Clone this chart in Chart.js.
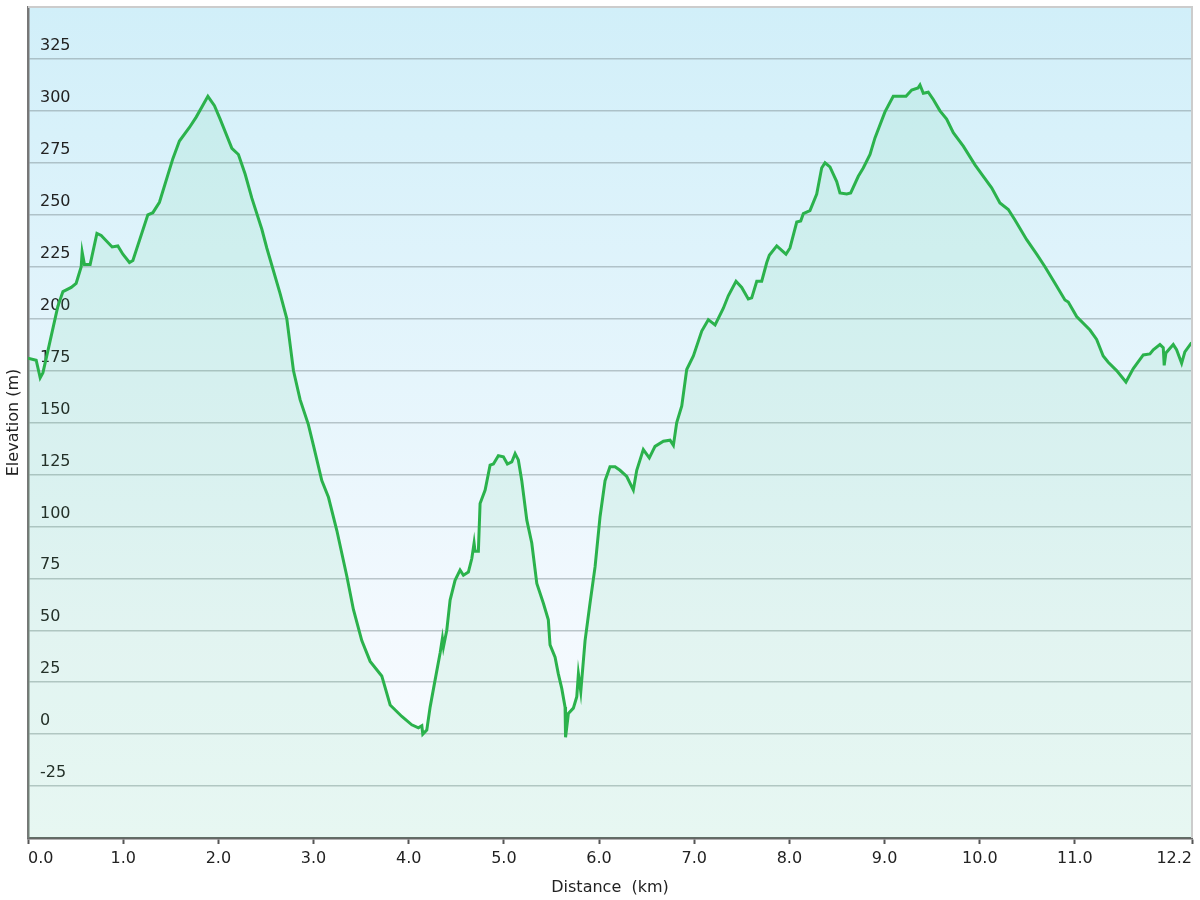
<!DOCTYPE html>
<html>
<head>
<meta charset="utf-8">
<title>Elevation profile</title>
<script src="https://cdn.jsdelivr.net/npm/chart.js@4/dist/chart.umd.min.js"></script>
<style>
    body { margin: 0; background: #ffffff; }
    #wrap { width: 1200px; height: 900px; }
</style>
</head>
<body>
<div id="wrap"><canvas id="profileChart" width="1200" height="900"></canvas></div>
<script>
// Profile data
const distanceKm = [
    0.0, 0.086, 0.128, 0.157, 0.226, 0.314, 0.367, 0.454, 0.506, 0.559, 0.569, 0.593, 0.653,
    0.724, 0.769, 0.884, 0.944, 0.997, 1.066, 1.102, 1.259, 1.312, 1.381, 1.522, 1.591,
    1.696, 1.767, 1.890, 1.959, 2.019, 2.142, 2.211, 2.282, 2.352, 2.457, 2.509, 2.649,
    2.719, 2.789, 2.859, 2.946, 2.999, 3.087, 3.157, 3.245, 3.350, 3.419, 3.507, 3.595,
    3.717, 3.805, 3.928, 4.032, 4.102, 4.138, 4.148, 4.190, 4.225, 4.277, 4.330, 4.354,
    4.365, 4.400, 4.435, 4.487, 4.540, 4.575, 4.627, 4.663, 4.687, 4.697, 4.732, 4.750,
    4.803, 4.855, 4.890, 4.942, 4.995, 5.037, 5.083, 5.118, 5.152, 5.188, 5.241, 5.293,
    5.346, 5.415, 5.467, 5.485, 5.538, 5.572, 5.608, 5.643, 5.648, 5.678, 5.730, 5.766,
    5.783, 5.808, 5.853, 5.905, 5.958, 6.010, 6.063, 6.115, 6.168, 6.220, 6.291, 6.360,
    6.396, 6.465, 6.528, 6.588, 6.676, 6.746, 6.781, 6.816, 6.869, 6.921, 6.991, 7.079,
    7.148, 7.219, 7.306, 7.358, 7.439, 7.499, 7.568, 7.604, 7.657, 7.709, 7.762, 7.789,
    7.867, 7.964, 8.006, 8.077, 8.119, 8.146, 8.216, 8.287, 8.339, 8.374, 8.426, 8.497,
    8.531, 8.602, 8.644, 8.724, 8.776, 8.847, 8.899, 9.004, 9.091, 9.225, 9.285, 9.351,
    9.372, 9.407, 9.459, 9.512, 9.582, 9.652, 9.722, 9.827, 9.950, 10.020, 10.125, 10.212,
    10.300, 10.370, 10.493, 10.598, 10.685, 10.790, 10.895, 10.930, 11.018, 11.158, 11.228,
    11.297, 11.350, 11.438, 11.536, 11.613, 11.718, 11.788, 11.823, 11.893, 11.928, 11.938,
    11.956, 12.033, 12.068, 12.121, 12.155, 12.226
];

const elevationM = [
    181, 180, 171.5, 174, 188, 206, 213, 215, 217, 225, 232, 226, 226,
    241, 240, 234.5, 235, 231, 227, 228, 250, 251, 256, 277, 285.5,
    292, 297, 307, 302.5, 296, 282, 279, 269.5, 258, 243, 234, 212,
    200, 175, 161, 149, 139, 122, 114, 98, 76, 60, 45, 35,
    28, 14, 8.5, 4.5, 3, 4, 0, 2, 13, 26, 39, 46,
    42, 50, 64.5, 74, 79, 76.5, 78, 84.5, 92, 88, 88, 111,
    117.5, 129.5, 130, 134, 133.5, 130, 131, 135, 132, 122, 103, 92,
    72.5, 63, 55, 43, 37, 29, 22, 13, -1.5, 10, 12.5, 18,
    29, 20.5, 45, 63, 80.5, 104.5, 122, 128.7, 128.7, 127, 124, 117.5,
    127, 137, 133, 138.5, 141, 141.5, 139, 150, 158, 175.5, 182, 194,
    199.5, 197, 205, 211, 218, 215, 209.5, 210, 218, 218, 227, 230.5,
    235, 231, 234, 246.5, 247, 250.5, 252, 260, 272.5, 275, 273, 266,
    260.5, 260, 260.5, 268.5, 272.5, 279, 287, 299.5, 307, 307, 310, 311,
    312.5, 308.5, 309, 305.5, 300, 296, 289.5, 283, 274, 269.5, 263, 255.7,
    252.5, 247.5, 238, 231, 225, 217, 209, 208, 201, 194.5, 190,
    182, 179, 175, 169.5, 176, 182.5, 183, 185, 187.5, 186, 177.5,
    183.5, 187.5, 185, 178.5, 184, 188.5
];

// Axis ticks
const xTickValues = [0, 1, 2, 3, 4, 5, 6, 7, 8, 9, 10, 11, 12.23];
const xMin = 0;
const xMax = 12.23;
const yMin = -50;
const yMax = 350;
const yStep = 25;

const points = distanceKm.map((d, i) => ({ x: d, y: elevationM[i] }));

// Plot background (blue to white) and light frame on top/right
const backgroundPlugin = {
    id: 'plotBackground',
    beforeDraw(chart) {
        const { ctx, chartArea } = chart;
        const g = ctx.createLinearGradient(0, chartArea.top, 0, chartArea.bottom);
        g.addColorStop(0, '#d1eff9');
        g.addColorStop(0.75, '#f3f9fe');
        g.addColorStop(1, '#f9fcff');
        ctx.save();
        ctx.fillStyle = g;
        ctx.fillRect(chartArea.left, chartArea.top, chartArea.right - chartArea.left, chartArea.bottom - chartArea.top);
        ctx.restore();
    },
    afterDraw(chart) {
        const { ctx, chartArea } = chart;
        ctx.save();
        ctx.strokeStyle = '#cccccc';
        ctx.lineWidth = 2;
        ctx.beginPath();
        ctx.moveTo(chartArea.left, chartArea.top);
        ctx.lineTo(chartArea.right, chartArea.top);
        ctx.lineTo(chartArea.right, chartArea.bottom);
        ctx.stroke();
        ctx.restore();
    }
};

const ctx = document.getElementById('profileChart').getContext('2d');
new Chart(ctx, {
    type: 'line',
    data: {
        datasets: [{
            label: 'Elevation',
            data: points,
            borderColor: '#2bb24c',
            backgroundColor: 'rgba(60, 205, 115, 0.09)',
            borderWidth: 3,
            pointRadius: 0,
            tension: 0,
            fill: 'start'
        }]
    },
    options: {
        responsive: false,
        animation: false,
        layout: { padding: { top: 7, right: 8, left: 0, bottom: 0 } },
        plugins: {
            legend: { display: false },
            tooltip: { enabled: false }
        },
        scales: {
            x: {
                type: 'linear',
                min: xMin,
                max: xMax,
                afterBuildTicks: scale => {
                    scale.ticks = xTickValues.map(v => ({ value: v }));
                },
                afterFit: scale => {
                    scale.height = 62;
                    scale.paddingLeft = 0;
                    scale.paddingRight = 0;
                },
                ticks: {
                    autoSkip: false,
                    maxRotation: 0,
                    align: 'inner',
                    padding: 5,
                    color: '#222',
                    font: { family: 'DejaVu Sans', size: 16 },
                    callback: v => Number(v).toFixed(1)
                },
                grid: {
                    drawOnChartArea: false,
                    drawTicks: true,
                    tickLength: 6,
                    tickWidth: 2,
                    tickColor: '#555'
                },
                border: { display: true, color: '#666', width: 2.5 },
                title: {
                    display: true,
                    text: 'Distance  (km)',
                    color: '#222',
                    font: { family: 'DejaVu Sans', size: 16 },
                    padding: { top: 0, bottom: 3 }
                }
            },
            y: {
                min: yMin,
                max: yMax,
                afterFit: scale => {
                    scale.width = 28;
                    scale.paddingTop = 0;
                    scale.paddingBottom = 0;
                },
                ticks: {
                    stepSize: yStep,
                    mirror: true,
                    padding: 12,
                    labelOffset: -13,
                    color: '#222',
                    font: { family: 'DejaVu Sans', size: 16 },
                    callback: v => (v === yMin || v === yMax) ? '' : v
                },
                grid: {
                    drawTicks: false,
                    lineWidth: 1.5,
                    color: c => (c.tick && (c.tick.value === yMin || c.tick.value === yMax)) ? 'rgba(0,0,0,0)' : 'rgba(120, 135, 140, 0.45)'
                },
                border: { display: true, color: '#777', width: 2.5 },
                title: {
                    display: true,
                    text: 'Elevation (m)',
                    color: '#222',
                    font: { family: 'DejaVu Sans', size: 16 },
                    padding: { top: 4, bottom: 0 }
                }
            }
        }
    },
    plugins: [backgroundPlugin]
});
</script>
</body>
</html>
